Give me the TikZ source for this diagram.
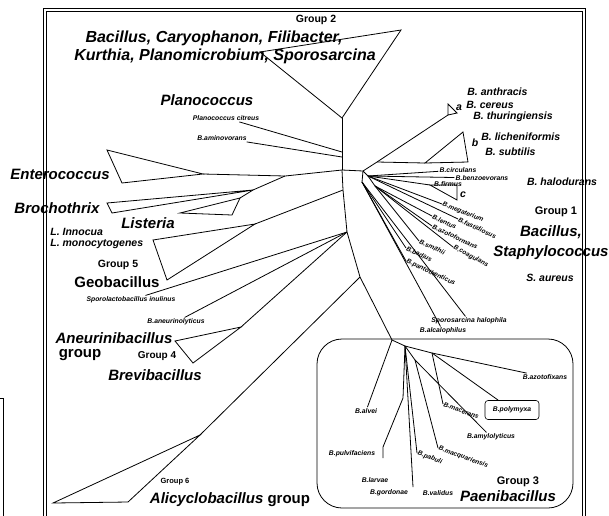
\documentclass[tikz,border=0pt]{standalone}
\usepackage{fontspec}
\setmainfont{Liberation Sans}
\begin{document}
\begin{tikzpicture}[x=1pt, y=-1pt, line width=0.8pt,
    genus/.style={font=\fontsize{15}{17}\selectfont\bfseries\itshape, inner sep=0pt},
    bigtop/.style={font=\fontsize{16}{18}\selectfont\bfseries\itshape, inner sep=0pt},
    grouplabel/.style={font=\fontsize{10.5}{12}\selectfont\bfseries, inner sep=0pt},
    species/.style={font=\fontsize{10.5}{12}\selectfont\bfseries\itshape, inner sep=0pt},
    strain/.style={font=\fontsize{6.8}{8}\selectfont\bfseries\itshape, inner sep=1pt},
    tilted/.style={strain, font=\fontsize{6.5}{7}\selectfont\bfseries\itshape, inner sep=0.5pt, anchor=west, rotate=#1}]
\useasboundingbox (0,0) rectangle (609,515);
\clip (0,0) rectangle (609,515);

% frame
\draw (43,8) rectangle (585,530);
\draw (46,11) rectangle (582,530);
\draw (0,398) -- (3,398) -- (3,530);

% labels, upper left
\node [grouplabel] (grp2) at (316,20) {Group 2};
\node [bigtop] (top1) at (214,38) {Bacillus, Caryophanon, Filibacter,};
\node [bigtop] (top2) at (225,56) {Kurthia, Planomicrobium, Sporosarcina};
\node [genus] (planoc) at (207,100) {Planococcus};
\node [strain] (pcit) at (226,118) {Planococcus citreus};
\node [strain] (amino) at (222,138) {B.aminovorans};
\node [genus] (entero) at (60,174) {Enterococcus};
\node [genus] (broch) at (57,208) {Brochothrix};
\node [genus] (lister) at (148,223) {Listeria};
\node [species, anchor=west] (linn) at (50,232) {L. Innocua};
\node [species, anchor=west] (lmono) at (50,244) {L. monocytogenes};
\node [grouplabel] (grp5) at (118,265) {Group 5};
\node [genus, font=\fontsize{15}{17}\selectfont\bfseries] (geo) at (117,282) {Geobacillus};
\node [strain] (spor) at (131,300) {Sporolactobacillus inulinus};
\node [strain] (aneu) at (176,322) {B.aneurinolyticus};
\node [genus] (aneug) at (114,338) {Aneurinibacillus};
\node [genus, font=\fontsize{15}{17}\selectfont\bfseries] (grpw) at (80,355) {group};
\node [grouplabel, font=\fontsize{10}{12}\selectfont\bfseries] (grp4) at (157,356) {Group 4};
\node [genus] (brevi) at (155,375) {Brevibacillus};
\node [grouplabel, font=\fontsize{7.5}{9}\selectfont\bfseries] (grp6) at (175,482) {Group 6};
\node [genus, font=\fontsize{15}{17}\selectfont\bfseries] (alicy) at (230,500) {\textit{Alicyclobacillus} group};

% labels, right
\node [species, anchor=west] (anth) at (467,92) {B. anthracis};
\node [species, anchor=west] (cere) at (466,105) {B. cereus};
\node [species, anchor=west] (thur) at (473,117) {B. thuringiensis};
\node [species] (laba) at (459,108) {a};
\node [species, anchor=west] (lich) at (481,137) {B. licheniformis};
\node [species, anchor=west] (subt) at (485,152) {B. subtilis};
\node [species] (labb) at (475,143) {b};
\node [strain] (circ) at (458,170) {B.circulans};
\node [strain] (benz) at (482,178) {B.benzoevorans};
\node [strain] (firm) at (448,184) {B.firmus};
\node [species] (labc) at (463,195) {c};
\node [species] (halo) at (562,182) {B. halodurans};
\node [grouplabel, font=\fontsize{11}{13}\selectfont\bfseries] (grp1) at (556,212) {Group 1};
\node [genus] (bac1) at (551,232) {Bacillus,};
\node [genus] (staph) at (551,253) {Staphylococcus};
\node [species] (saur) at (550,278) {S. aureus};
\node [tilted=-22] (mega) at (442,204) {B.megaterium};
\node [tilted=-25] (fast) at (458,219) {B.fastidiosus};
\node [tilted=-25] (lent) at (432,216) {B.lentus};
\node [tilted=-25] (azot) at (432,226) {B.azotoformans};
\node [tilted=-28] (coag) at (453,247) {B.coagulans};
\node [tilted=-25] (smit) at (419,241) {B.smithii};
\node [tilted=-25] (badi) at (406,248) {B.badius};
\node [tilted=-25] (pant) at (406,261) {B.pantothenticus};
\node [strain] (halop) at (469,321) {Sporosarcina halophila};
\node [strain] (alca) at (443,331) {B.alcalophilus};

% Paenibacillus box
\draw [rounded corners=25pt] (317,339) rectangle (573,508);
\node [strain] (alve) at (366,411) {B.alvei};
\node [strain] (azfx) at (545,377) {B.azotofixans};
\node [strain, draw, rounded corners=3pt, minimum width=54pt, minimum height=19pt, line width=0.6pt] (poly) at (512,410) {B.polymyxa};
\node [tilted=-20] (mace) at (443,404) {B.macerans};
\node [strain] (amyl) at (491,437) {B.amylolyticus};
\node [tilted=-20] (macq) at (438,448) {B.macquariensis};
\node [tilted=-20] (pabu) at (417,453) {B.pabuli};
\node [strain] (pulv) at (352,454) {B.pulvifaciens};
\node [strain] (larv) at (375,480) {B.larvae};
\node [strain] (gord) at (389,493) {B.gordonae};
\node [strain] (vali) at (438,493) {B.validus};
\node [grouplabel, font=\fontsize{11}{13}\selectfont\bfseries] (grp3) at (518,482) {Group 3};
\node [genus] (paeni) at (508,496) {Paenibacillus};

% inner points of the tree
\coordinate (c0) at (342,170);
\coordinate (g2) at (342,118);
\coordinate (g2a) at (260,52);
\coordinate (g2b) at (401,30);
\coordinate (s1) at (342,152);
\coordinate (s2) at (342,157);
\coordinate (l1) at (285,176);
\coordinate (e0) at (203,174);
\coordinate (ea) at (107,150);
\coordinate (eb) at (122,183);
\coordinate (l2) at (253,190);
\coordinate (ba) at (107,203);
\coordinate (bb) at (112,213);
\coordinate (la) at (180,213);
\coordinate (lb) at (240,198);
\coordinate (lc) at (232,215);
\coordinate (t1) at (343,190);
\coordinate (t3) at (347,232);
\coordinate (t5) at (360,277);
\coordinate (t6) at (392,340);
\coordinate (g0) at (255,224);
\coordinate (ga) at (153,240);
\coordinate (gb) at (167,280);
\coordinate (v0) at (241,327);
\coordinate (va) at (175,341);
\coordinate (vb) at (193,363);
\coordinate (w0) at (200,435);
\coordinate (wa) at (53,503);
\coordinate (wb) at (128,502);
\coordinate (r0) at (363,171);
\coordinate (r1) at (377,162);
\coordinate (a0) at (448,115);
\coordinate (a1) at (448,104);
\coordinate (a2) at (457,113);
\coordinate (b0) at (425,163);
\coordinate (b1) at (463,132);
\coordinate (b2) at (468,162);
\coordinate (r2) at (368,176);
\coordinate (r3) at (375,186);
\coordinate (r4) at (362,182);
\coordinate (f0) at (430,185);
\coordinate (f1) at (457,185);
\coordinate (f2) at (457,200);
\coordinate (p1) at (405,346);
\coordinate (p2) at (432,353);
\coordinate (p3) at (415,360);
\coordinate (p4) at (403,398);
\coordinate (p5) at (383,447);
\coordinate (p6) at (383,458);
\coordinate (p7) at (413,487);

% group 2 side
\draw (c0) -- (g2);
\draw (g2) -- (g2a) -- (g2b) -- cycle;
\draw (s1) -- (pcit);
\draw (s2) -- (amino);

% left side
\draw (c0) -- (l1) -- (e0);
\draw (e0) -- (ea) -- (eb) -- cycle;
\draw (l1) -- (l2);
\draw (l2) -- (ba) -- (bb) -- cycle;
\draw (l2) -- (lb);
\draw (lb) -- (la) -- (lc) -- cycle;
\draw (c0) -- (t1) -- (t3) -- (t5) -- (t6);
\draw (t1) -- (g0);
\draw (g0) -- (ga) -- (gb) -- cycle;
\draw (t3) -- (spor);
\draw (t3) -- (aneu);
\draw (t3) -- (v0);
\draw (v0) -- (va) -- (vb) -- cycle;
\draw (t5) -- (w0);
\draw (w0) -- (wa) -- (wb) -- cycle;

% right side
\draw (c0) -- (r0) -- (r1) -- (a0);
\draw (a0) -- (a1) -- (a2) -- cycle;
\draw (r1) -- (b0);
\draw (b0) -- (b1) -- (b2) -- cycle;
\draw (r0) -- (r2);
\draw (r2) -- (circ);
\draw (r2) -- (benz);
\draw (r2) -- (f0);
\draw (f0) -- (f1) -- (f2) -- cycle;
\draw (r2) -- (mega.west);
\draw (r2) -- (fast.west);
\draw (r2) -- (r3);
\draw (r3) -- (lent.west);
\draw (r3) -- (azot.west);
\draw (r3) -- (coag.west);
\draw (r3) -- (smit.west);
\draw (r0) -- (r4);
\draw (r4) -- (badi.west);
\draw (r4) -- (pant.west);
\draw (r4) -- (halop);
\draw (r4) -- (alca);

% Paenibacillus
\draw (t6) -- (p1) -- (p2) -- (azfx);
\draw (t6) -- (alve);
\draw (p1) -- (p4) -- (p5) -- (p6);
\draw (p1) -- (p7);
\draw (p1) -- (pabu.west);
\draw (p1) -- (p3);
\draw (p3) -- (macq.west);
\draw (p3) -- (amyl);
\draw (p2) -- (mace.west);
\draw (p2) -- (poly);
\end{tikzpicture}
\end{document}
